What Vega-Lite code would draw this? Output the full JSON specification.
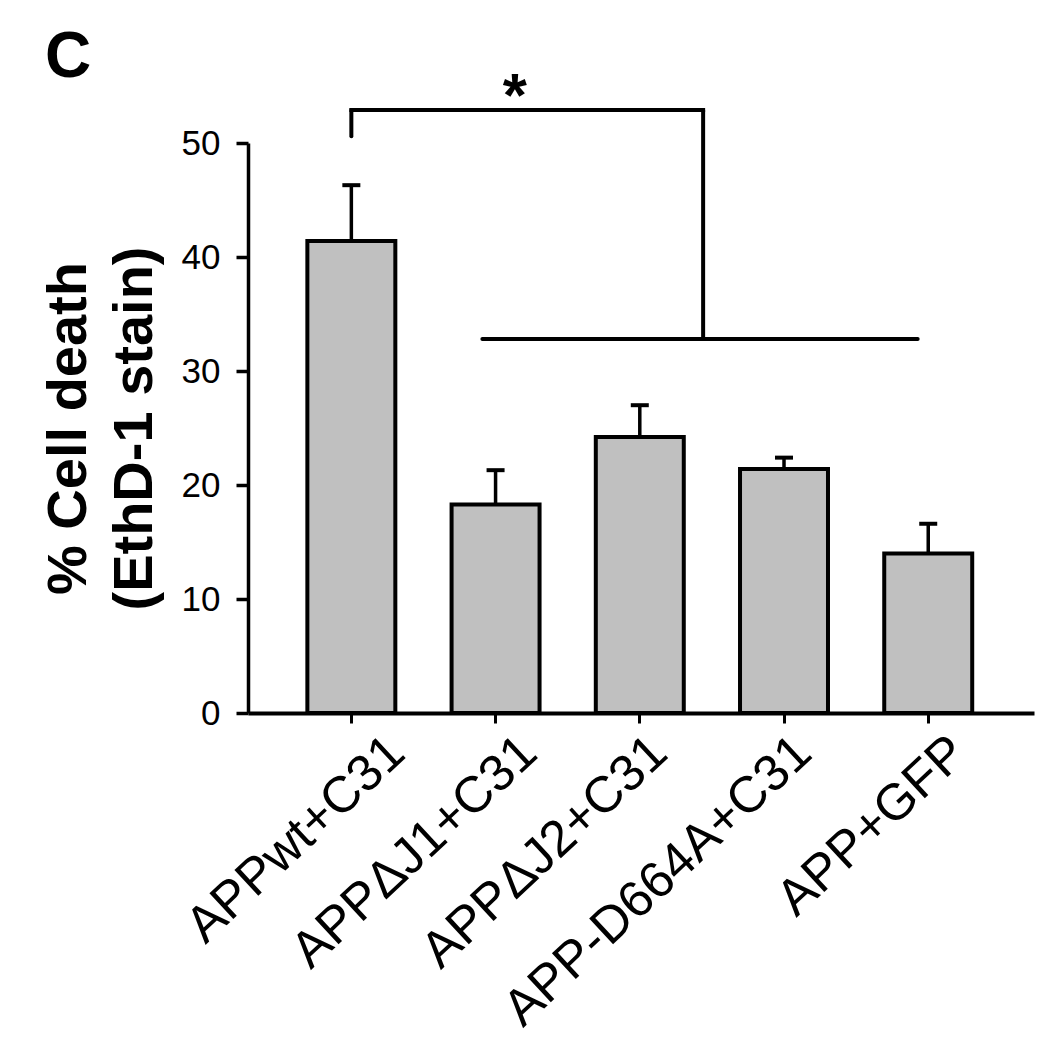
{
  "$schema": "https://vega.github.io/schema/vega-lite/v6.json",
  "width": 786,
  "height": 570,
  "autosize": {"type": "none"},
  "padding": {"left": 248, "top": 143, "right": 16, "bottom": 330},
  "background": "white",
  "title": {"text": "C", "anchor": "start", "frame": "group", "fontSize": 64, "fontWeight": "bold", "font": "Liberation Sans", "color": "black", "dx": -203, "offset": 66, "dy": 90},
  "config": {
    "view": {"stroke": null},
    "font": "Liberation Sans",
    "axis": {"grid": false, "domainColor": "black", "tickColor": "black", "labelColor": "black", "titleColor": "black", "labelFont": "Liberation Sans", "titleFont": "Liberation Sans"}
  },
  "datasets": {
    "bars": [
      {"group": "APPwt+C31", "mean": 41.4, "upper": 46.3},
      {"group": "APPΔJ1+C31", "mean": 18.3, "upper": 21.3},
      {"group": "APPΔJ2+C31", "mean": 24.2, "upper": 27.0},
      {"group": "APP-D664A+C31", "mean": 21.4, "upper": 22.4},
      {"group": "APP+GFP", "mean": 14.0, "upper": 16.6}
    ]
  },
  "layer": [
    {
      "data": {"name": "bars"},
      "mark": {"type": "bar", "fill": "#c0c0c0", "stroke": "black", "strokeWidth": 4},
      "encoding": {
        "x": {"field": "group", "type": "nominal", "sort": null,
          "scale": {"paddingInner": 0.39, "paddingOuter": 0.42, "align": 0.49},
          "axis": {"title": null, "domainWidth": 4, "tickWidth": 3, "tickSize": 10, "labelAngle": -43, "labelAlign": "right", "labelBaseline": "middle", "labelFontSize": 51, "labelPadding": 22,
            "labelOffset": {"condition": [
              {"test": "datum.value == 'APPwt+C31'", "value": 46},
              {"test": "datum.value == 'APPΔJ1+C31'", "value": 34},
              {"test": "datum.value == 'APP+GFP'", "value": 31}
            ], "value": 20},
            "labelLimit": 0, "labelOverlap": false}},
        "y": {"field": "mean", "type": "quantitative",
          "scale": {"domain": [0, 50], "nice": false},
          "axis": {"values": [0, 10, 20, 30, 40, 50], "title": ["% Cell death", "(EthD-1 stain)"], "titleFontSize": 56, "titleFontWeight": "bold", "titleLineHeight": 66, "titlePadding": 18, "domainWidth": 3.5, "tickWidth": 3.5, "tickSize": 12, "labelFontSize": 35, "labelPadding": 16}}
      }
    },
    {
      "data": {"name": "bars"},
      "mark": {"type": "rule", "stroke": "black", "strokeWidth": 3.5},
      "encoding": {
        "x": {"field": "group", "type": "nominal", "sort": null},
        "y": {"field": "mean", "type": "quantitative"},
        "y2": {"field": "upper"}
      }
    },
    {
      "data": {"name": "bars"},
      "mark": {"type": "tick", "color": "black", "size": 18, "thickness": 4, "opacity": 1},
      "encoding": {
        "x": {"field": "group", "type": "nominal", "sort": null},
        "y": {"field": "upper", "type": "quantitative"}
      }
    },
    {
      "data": {"values": [{"group": "APPwt+C31", "y": 50.6, "y2": 52.9}]},
      "mark": {"type": "rule", "stroke": "black", "strokeWidth": 4, "strokeCap": "round"},
      "encoding": {
        "x": {"field": "group", "type": "nominal", "sort": null},
        "y": {"field": "y", "type": "quantitative"},
        "y2": {"field": "y2"}
      }
    },
    {
      "data": {"values": [{"from": "APPwt+C31", "to": "APPΔJ2+C31", "y": 52.9}]},
      "mark": {"type": "rule", "stroke": "black", "strokeWidth": 4, "strokeCap": "square"},
      "encoding": {
        "x": {"field": "from", "type": "nominal", "sort": null, "bandPosition": 0.5},
        "x2": {"field": "to", "bandPosition": 1.22},
        "y": {"field": "y", "type": "quantitative"}
      }
    },
    {
      "data": {"values": [{"group": "APPΔJ2+C31", "y": 32.8, "y2": 52.9}]},
      "mark": {"type": "rule", "stroke": "black", "strokeWidth": 4},
      "encoding": {
        "x": {"field": "group", "type": "nominal", "sort": null, "bandPosition": 1.22},
        "y": {"field": "y", "type": "quantitative"},
        "y2": {"field": "y2"}
      }
    },
    {
      "data": {"values": [{"from": "APPΔJ1+C31", "to": "APP+GFP", "y": 32.8}]},
      "mark": {"type": "rule", "stroke": "black", "strokeWidth": 4, "strokeCap": "round"},
      "encoding": {
        "x": {"field": "from", "type": "nominal", "sort": null, "bandPosition": 0.35},
        "x2": {"field": "to", "bandPosition": 0.38},
        "y": {"field": "y", "type": "quantitative"}
      }
    },
    {
      "data": {"values": [{"group": "APPΔJ1+C31", "y": 52.9, "label": "*"}]},
      "mark": {"type": "text", "fontSize": 62, "fontWeight": "bold", "font": "Liberation Sans", "color": "black", "align": "center", "baseline": "alphabetic", "dy": 6},
      "encoding": {
        "x": {"field": "group", "type": "nominal", "sort": null, "bandPosition": 0.72},
        "y": {"field": "y", "type": "quantitative"},
        "text": {"field": "label"}
      }
    }
  ]
}
